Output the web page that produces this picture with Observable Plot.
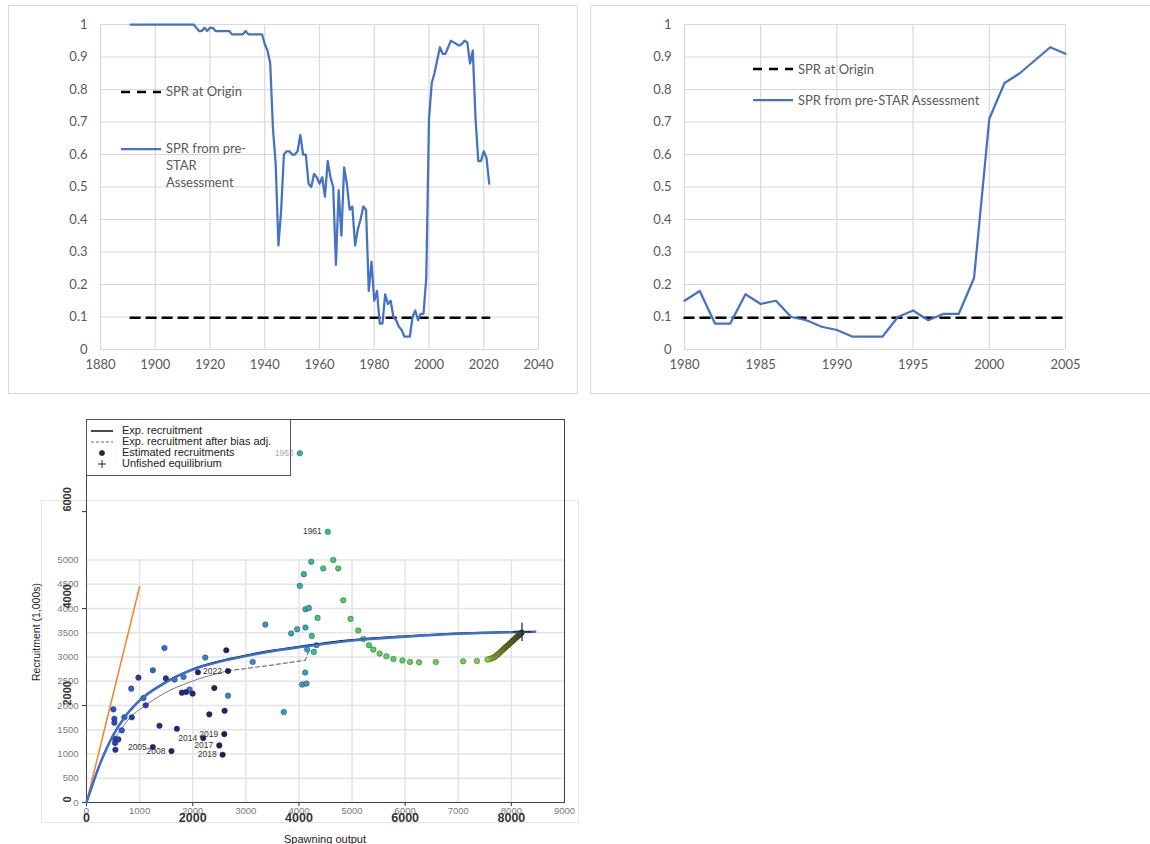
<!DOCTYPE html>
<html>
<head>
<meta charset="utf-8">
<script src="https://cdn.jsdelivr.net/npm/d3@7"></script>
<script src="https://cdn.jsdelivr.net/npm/@observablehq/plot@0.6"></script>
<style>
  html,body{margin:0;padding:0;background:#fff;}
  body{width:1150px;height:844px;position:relative;overflow:hidden;}
  .abs{position:absolute;}
  .box{position:absolute;box-sizing:border-box;border:1px solid #d9d9d9;}
  .xl{position:absolute;font-family:Lato,"Open Sans",sans-serif;font-size:13px;color:#595959;line-height:17px;white-space:nowrap;}
  .rl{position:absolute;font-family:"Liberation Sans",Arial,sans-serif;font-size:11px;color:#222;line-height:11px;white-space:nowrap;}
</style>
</head>
<body>
<div class="box" style="left:8px;top:5px;width:570px;height:389px"></div>
<div class="box" style="left:590px;top:5px;width:562px;height:389px"></div>
<div class="box" style="left:41px;top:500px;width:538px;height:323px;border-color:#e4e4e4"></div>

<div id="pa" class="abs" style="left:8px;top:5px"></div>
<div id="pb" class="abs" style="left:590px;top:5px"></div>
<div id="pc" class="abs" style="left:0px;top:400px"></div>

<!-- legend, panel A -->
<svg class="abs" style="left:121px;top:88px" width="42" height="8"><line x1="0" y1="4" x2="40" y2="4" stroke="#000" stroke-width="2.5" stroke-dasharray="9,7"/></svg>
<div class="xl" style="left:166px;top:83px">SPR at Origin</div>
<svg class="abs" style="left:121px;top:145px" width="42" height="8"><line x1="0" y1="4" x2="40" y2="4" stroke="#4472C4" stroke-width="2.25"/></svg>
<div class="xl" style="left:166px;top:140px">SPR from pre-<br>STAR<br>Assessment</div>

<!-- legend, panel B -->
<svg class="abs" style="left:753px;top:65px" width="42" height="8"><line x1="0" y1="4" x2="40" y2="4" stroke="#000" stroke-width="2.5" stroke-dasharray="9,7"/></svg>
<div class="xl" style="left:798px;top:61px">SPR at Origin</div>
<svg class="abs" style="left:753px;top:96px" width="42" height="8"><line x1="0" y1="4" x2="40" y2="4" stroke="#4472C4" stroke-width="2.25"/></svg>
<div class="xl" style="left:798px;top:92px">SPR from pre-STAR Assessment</div>

<!-- legend, panel C -->
<div class="abs" style="left:86px;top:419px;width:205px;height:57px;border:1px solid #555;box-sizing:border-box"></div>
<svg class="abs" style="left:89px;top:425px" width="28" height="46">
  <line x1="2" y1="6" x2="24" y2="6" stroke="#111" stroke-width="1.5"/>
  <line x1="2" y1="17" x2="24" y2="17" stroke="#666" stroke-width="1" stroke-dasharray="3,2"/>
  <circle cx="13" cy="28" r="2.6" fill="#1e1e6a" stroke="#222" stroke-width="0.6"/>
  <path d="M9,39H17M13,35V43" stroke="#222" stroke-width="1"/>
</svg>
<div class="rl" style="left:122px;top:425px">Exp. recruitment</div>
<div class="rl" style="left:122px;top:436px">Exp. recruitment after bias adj.</div>
<div class="rl" style="left:122px;top:447px">Estimated recruitments</div>
<div class="rl" style="left:122px;top:458px">Unfished equilibrium</div>

<div class="rl" style="left:36px;top:632px;font-size:10.5px;transform:translate(-50%,-50%) rotate(-90deg)">Recruitment (1,000s)</div>
<div class="rl" style="left:325px;top:839px;font-size:11px;transform:translate(-50%,-50%)">Spawning output</div>

<script>
// ---------------- Panel A: SPR 1891-2022 ----------------
const yearsA = d3.range(1891, 2023);
const sprA = [
  1,1,1,1,1,1,1,1,1,1,1,1,1,1,1,1,1,1,1,1,1,1,1,1,            // 1891-1914
  0.99,0.98,0.98,0.99,0.98,0.99,0.99,0.98,0.98,0.98,0.98,0.98,0.98, // 1915-1927
  0.97,0.97,0.97,0.97,0.97,0.98,0.97,0.97,0.97,0.97,0.97,0.97,      // 1928-1939
  0.94,0.92,0.88,0.68,0.57,0.32,0.43,0.60,0.61,0.61,                // 1940-1949
  0.60,0.60,0.61,0.66,0.60,0.60,0.51,0.50,0.54,0.53,                // 1950-1959
  0.51,0.53,0.47,0.58,0.53,0.50,0.26,0.49,0.35,0.56,                // 1960-1969
  0.51,0.43,0.44,0.32,0.37,0.40,0.44,0.43,0.18,0.27,                // 1970-1979
  0.15,0.18,0.08,0.08,0.17,0.14,0.15,0.10,0.09,0.07,                // 1980-1989
  0.06,0.04,0.04,0.04,0.10,0.12,0.09,0.11,0.11,0.22,                // 1990-1999
  0.71,0.82,0.85,0.89,0.93,0.91,0.91,0.93,0.95,0.945,               // 2000-2009
  0.94,0.935,0.94,0.95,0.945,0.88,0.92,0.71,0.58,0.58,              // 2010-2019
  0.61,0.59,0.51                                                    // 2020-2022
];
const originYearsA = [1891, 2022];
const originSprA = [0.098, 0.098];
const xTicksA = [1880,1900,1920,1940,1960,1980,2000,2020,2040];
const yTicks = [0,0.1,0.2,0.3,0.4,0.5,0.6,0.7,0.8,0.9,1];

// ---------------- Panel B: SPR 1980-2005 ----------------
const yearsB = d3.range(1980, 2006);
const sprB = [0.15,0.18,0.08,0.08,0.17,0.14,0.15,0.10,0.09,0.07,0.06,0.04,0.04,0.04,0.10,0.12,0.09,0.11,0.11,0.22,0.71,0.82,0.85,0.89,0.93,0.91];
const originYearsB = [1980, 2005];
const originSprB = [0.098, 0.098];
const xTicksB = [1980,1985,1990,1995,2000,2005];

// ---------------- Panel C: stock-recruitment ----------------
const srSpawn = [
  8195,8180,8160,8140,8115,8090,8060,8030,8000,7965,7930,7895,7860,7825,7790,7755,7720,7690,7655,7620,7590,
  7552,7350,7091,6576,6261,6091,5948,5778,5646,5520,5400,5318,5212,5117,4972,4834,4740,4645,4457,4350,4242,4280,4544,
  4231,4016,4091,4016,4123,4186,4123,3966,3853,4155,4331,4117,4061,4142,3714,3368,3129,
  2664,2236,1940,1827,1657,1468,1249,1072,842,714,664,506,525,525,538,538,600,1115,853,978,544,
  1494,1374,1796,1878,1997,1249,1702,2098,1600,2312,2406,2632,2600,2198,2500,2563,2594,2664
];
const srRecruit = [
  3505,3490,3470,3450,3425,3400,3370,3340,3310,3275,3240,3205,3170,3135,3100,3065,3035,3005,2985,2970,2960,
  2948,2920,2913,2899,2892,2899,2930,2961,3016,3072,3155,3244,3374,3547,3787,4173,4828,5000,4828,3808,3436,3106,5585,
  4965,7204,4710,4469,3987,4014,3609,3574,3485,3155,3244,2680,2432,2452,1866,3671,2899,
  2204,2989,2328,2590,2535,3188,2727,2156,2348,1756,1488,1921,1729,1646,1315,1227,1302,2004,1756,2576,1088,
  2562,1584,2266,2280,2245,1143,1522,2686,1060,1818,2362,3140,1894,1329,1178,985,1411,2713
];
const srYear = [
  1891,1893,1895,1897,1899,1901,1903,1905,1907,1909,1911,1913,1915,1917,1919,1921,1923,1925,1927,1929,1932,
  1935,1937,1939,1941,1943,1944,1945,1946,1947,1948,1949,1950,1951,1952,1953,1954,1955,1956,1957,1958,1959,1960,1961,
  1962,1963,1964,1965,1966,1967,1968,1969,1970,1971,1972,1973,1974,1975,1976,1977,1978,
  1979,1980,1981,1982,1983,1984,1985,1986,1987,1988,1989,1990,1991,1992,1993,1994,1995,1996,1997,1998,1999,
  2000,2001,2002,2003,2004,2005,2006,2007,2008,2009,2010,2011,2012,2014,2017,2018,2019,2022
];
const labelYears = [1961,2005,2008,2014,2017,2018,2019,2022];
const fadedLabelYears = [1963];

const fitSpawn   = [0,250,500,750,1000,1500,2000,2500,3000,3500,4000,5000,6000,7000,8000,8450];
const fitRecruit = [0,780,1380,1800,2100,2480,2740,2900,3020,3120,3200,3340,3420,3480,3512,3522];
const expSpawn   = [0,250,500,750,1000,1500,2000,2500,3000,3500,4000,5000,6000,7000,8000,8200];
const expRecruit = [0,795,1395,1815,2115,2495,2755,2918,3038,3138,3218,3355,3435,3492,3522,3528];
const biasSpawn   = [500,820,1115,1450,1950,2660];
const biasRecruit = [1260,1750,2004,2245,2487,2715];
const biasDashSpawn   = [2660,3460,4120,4200];
const biasDashRecruit = [2715,2830,2935,3170];
const replSpawn = [0, 1000];
const replRecruit = [0, 4450];
const unfishedSpawn = [8200];
const unfishedRecruit = [3520];

const gridRecruit = [0,500,1000,1500,2000,2500,3000,3500,4000,4500,5000];
const gridSpawn = [0,1000,2000,3000,4000,5000,6000,7000,8000,9000];
const rTicksSpawn = [0,2000,4000,6000,8000];
const rTicksRecruit = [0,2000,4000,6000];

const colorYears = [1891,1915,1930,1936,1955,1964,1976,1990,2004,2022];
const colorStops = ["#3c3c0c","#66761a","#96b82c","#74d448","#3fcf68","#2cb6a6","#3394da","#2b52c6","#242476","#1b1b55"];

// ---------------- build plots ----------------
function sprPlot(years, spr, oYears, oSpr, xTicks, width, ml, mr) {
  const series = years.map((yr, i) => ({yr, v: spr[i]}));
  const origin = oYears.map((yr, i) => ({yr, v: oSpr[i]}));
  return Plot.plot({
    width, height: 388,
    marginLeft: ml, marginRight: mr, marginTop: 19, marginBottom: 44,
    style: {fontFamily: "Lato, 'Open Sans', sans-serif", fontSize: "13px", color: "#595959", background: "transparent", overflow: "visible"},
    x: {domain: [xTicks[0], xTicks[xTicks.length - 1]], ticks: xTicks, tickFormat: "d", tickSize: 0, tickPadding: 10, label: null},
    y: {domain: [0, 1], ticks: yTicks, tickFormat: d => String(d), tickSize: 0, tickPadding: 13, label: null},
    marks: [
      Plot.ruleX(xTicks, {stroke: "#d9d9d9", strokeWidth: 1.2}),
      Plot.ruleY(yTicks, {stroke: "#d9d9d9", strokeWidth: 1.2}),
      Plot.line(origin, {x: "yr", y: "v", stroke: "#000", strokeWidth: 2.5, strokeDasharray: "9,7"}),
      Plot.line(series, {x: "yr", y: "v", stroke: "#4472C4", strokeWidth: 2.25, strokeLinejoin: "round"})
    ]
  });
}

document.getElementById("pa").append(sprPlot(yearsA, sprA, originYearsA, originSprA, xTicksA, 569, 92, 39));
document.getElementById("pb").append(sprPlot(yearsB, sprB, originYearsB, originSprB, xTicksB, 558, 94, 83));

const pts = srSpawn.map((x, i) => ({x, y: srRecruit[i], year: srYear[i]}));
const toRows = (xs, ys) => xs.map((x, i) => ({x, y: ys[i]}));

const pc = Plot.plot({
  width: 580, height: 444,
  marginLeft: 86, marginRight: 16, marginTop: 19, marginBottom: 42,
  style: {fontFamily: "'Liberation Sans', Arial, sans-serif", fontSize: "10px", color: "#222", background: "transparent", overflow: "visible"},
  x: {domain: [0, 9000], axis: null},
  y: {domain: [0, 7900], axis: null},
  color: {type: "linear", domain: colorYears, range: colorStops, interpolate: "rgb"},
  marks: [
    Plot.ruleY(gridRecruit, {y: d => d, x1: 0, x2: 9000, stroke: "#e4e4e4", strokeWidth: 1.5}),
    Plot.ruleX(gridSpawn, {x: d => d, y1: 0, y2: 5000, stroke: "#e4e4e4", strokeWidth: 1.5}),
    Plot.axisY({ticks: gridRecruit, tickSize: 0, tickPadding: 8, fontSize: 9.5, color: "#7a7a7a", tickFormat: "d", label: null}),
    Plot.axisX({ticks: gridSpawn, tickSize: 0, tickPadding: 5, fontSize: 9.5, color: "#7a7a7a", tickFormat: "d", label: null}),
    Plot.axisY({ticks: rTicksRecruit, tickSize: 4, tickFormat: () => "", color: "#333", label: null}),
    Plot.axisX({ticks: rTicksSpawn, tickSize: 4, tickPadding: 7, fontSize: 12.5, fontWeight: "bold", color: "#333", tickFormat: "d", label: null}),
    Plot.text(rTicksRecruit, {y: d => d, text: d => String(d), frameAnchor: "left", dx: -19, rotate: -90, fontSize: 11, fontWeight: "bold", fill: "#333"}),
    Plot.frame({stroke: "#444"}),
    Plot.line(toRows(replSpawn, replRecruit), {x: "x", y: "y", stroke: "#f08a32", strokeWidth: 1.6}),
    Plot.line(toRows(biasSpawn, biasRecruit), {x: "x", y: "y", stroke: "#777", strokeWidth: 1, curve: "monotone-x"}),
    Plot.line(toRows(biasDashSpawn, biasDashRecruit), {x: "x", y: "y", stroke: "#777", strokeWidth: 1.2, strokeDasharray: "4,3"}),
    Plot.dot(pts, {x: "x", y: "y", fill: "year", r: 2.8, stroke: "#222", strokeWidth: 0.6, strokeOpacity: 0.6}),
    Plot.line(toRows(expSpawn, expRecruit), {x: "x", y: "y", stroke: "#1a1a1a", strokeWidth: 1.6, curve: "monotone-x"}),
    Plot.line(toRows(fitSpawn, fitRecruit), {x: "x", y: "y", stroke: "#3a6fd2", strokeWidth: 2.4, curve: "monotone-x"}),
    Plot.dot(toRows(unfishedSpawn, unfishedRecruit), {x: "x", y: "y", symbol: "plus", r: 6, stroke: "#222", strokeWidth: 1.2}),
    Plot.text(pts.filter(p => labelYears.includes(p.year)), {x: "x", y: "y", text: d => String(d.year), textAnchor: "end", dx: -6, fontSize: 8.5, fill: "#333"}),
    Plot.text(pts.filter(p => fadedLabelYears.includes(p.year)), {x: "x", y: "y", text: d => String(d.year), textAnchor: "end", dx: -6, fontSize: 8.5, fill: "#aaa"})
  ]
});
document.getElementById("pc").append(pc);
</script>
</body>
</html>
